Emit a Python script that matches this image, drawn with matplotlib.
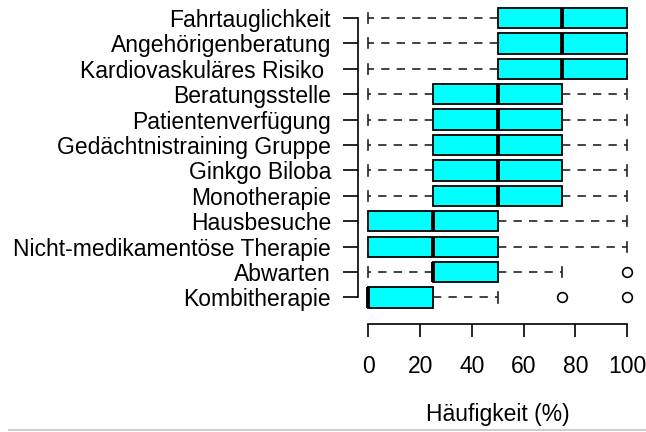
import matplotlib
matplotlib.use("Agg")
import matplotlib.pyplot as plt
from matplotlib.lines import Line2D

plt.rcParams['font.family'] = ['Liberation Sans', 'DejaVu Sans']

# Categories listed top to bottom
categories = ["Fahrtauglichkeit", "Angehörigenberatung", "Kardiovaskuläres Risiko ",
              "Beratungsstelle", "Patientenverfügung", "Gedächtnistraining Gruppe",
              "Ginkgo Biloba", "Monotherapie", "Hausbesuche",
              "Nicht-medikamentöse Therapie", "Abwarten", "Kombitherapie"]
whislo = [0, 0, 0, 0, 0, 0, 0, 0, 0, 0, 0, 0]
q1     = [50, 50, 50, 25, 25, 25, 25, 25, 0, 0, 25, 0]
med    = [75, 75, 75, 50, 50, 50, 50, 50, 25, 25, 25, 0]
q3     = [100, 100, 100, 75, 75, 75, 75, 75, 50, 50, 50, 25]
whishi = [100, 100, 100, 100, 100, 100, 100, 100, 100, 100, 75, 50]
fliers = [[], [], [], [], [], [], [], [], [], [], [100], [75, 100]]
xticks = [0, 20, 40, 60, 80, 100]
xlabel = "Häufigkeit (%)"

FS = 16.5

fig = plt.figure(figsize=(6.46, 4.32), dpi=100)
ax = fig.add_axes([358/646, 1 - 310.2/432, 279.4/646, 304.9/432])

stats = []
for i in range(len(categories)):
    stats.append(dict(whislo=whislo[i], q1=q1[i], med=med[i], q3=q3[i],
                      whishi=whishi[i], fliers=fliers[i], label=categories[i]))
stats = stats[::-1]
n = len(stats)

ax.bxp(stats, positions=range(1, n + 1), vert=False, widths=0.8,
       patch_artist=True, showfliers=True,
       boxprops=dict(facecolor='#00FFFF', edgecolor='black', linewidth=1.3),
       medianprops=dict(color='black', linewidth=2.8, solid_capstyle='butt'),
       whiskerprops=dict(color='#222222', linewidth=1.2, linestyle=(0, (5, 4.3))),
       capprops=dict(color='#222222', linewidth=1.2),
       capwidths=0.4,
       flierprops=dict(marker='o', markerfacecolor='none', markeredgecolor='black',
                       markersize=7, markeredgewidth=1.2))

ax.set_xlim(-4, 104)
ax.set_ylim(0.5, n + 0.5)
ax.set_yticks(range(1, n + 1))
ax.set_yticklabels(categories[::-1])
ax.set_xticks(xticks)
ax.set_xticklabels([str(t) for t in xticks])

for s in ['top', 'right']:
    ax.spines[s].set_visible(False)
ax.spines['left'].set_bounds(1, n)
ax.spines['bottom'].set_bounds(0, 100)
ax.spines['bottom'].set_position(('outward', 9.6))
ax.spines['left'].set_linewidth(1.2)
ax.spines['bottom'].set_linewidth(1.2)
ax.tick_params(axis='y', length=10.5, width=1.2, pad=9, labelsize=FS)
ax.tick_params(axis='x', length=9, width=1.2, pad=14, labelsize=FS)

fig.text(497.7/646, 1 - 414/432, xlabel, fontsize=FS, ha='center', va='center')
fig.add_artist(Line2D([9/646, 1], [1 - 430/432, 1 - 430/432], color='#c4c4c4', linewidth=1.2,
                      transform=fig.transFigure))

fig.savefig("out.png", dpi=100)
